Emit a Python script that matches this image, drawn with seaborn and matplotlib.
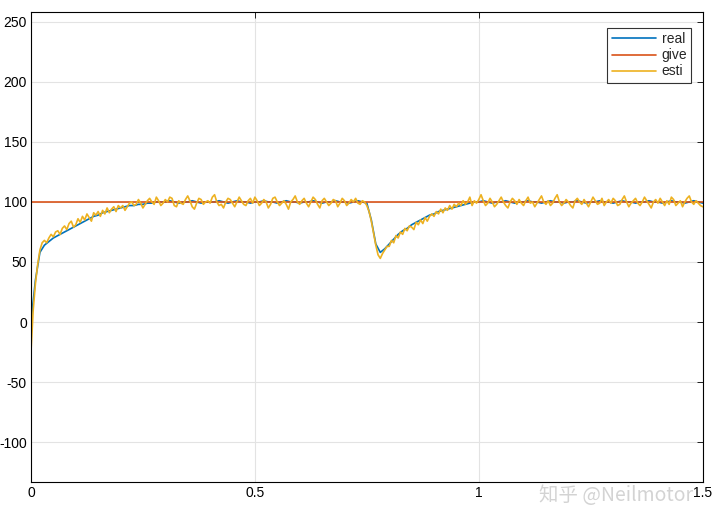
import matplotlib
matplotlib.use("Agg")
import matplotlib.pyplot as plt
import numpy as np
import seaborn as sns

# reference signal (step command)
give_t = [0.0, 1.5]
give_v = [100, 100]

# real speed, sampled every 0.01 s
real_v = [
    0, 35, 58, 64, 67, 70, 72, 74, 76, 78,
    80, 82, 84, 86, 88, 89, 91, 92, 93, 94,
    95, 96, 97, 97, 98, 98, 99, 99, 100, 100,
    100, 101, 100, 99, 100, 100, 101, 100, 99, 100,
    100, 100, 101, 100, 99, 100, 101, 100, 100, 99,
    100, 100, 101, 100, 100, 99, 100, 101, 100, 100,
    99, 100, 100, 101, 100, 99, 100, 100, 101, 100,
    100, 99, 100, 101, 100, 99, 85, 65, 58, 61,
    65, 69, 73, 76, 78, 81, 83, 85, 87, 89,
    90, 92, 93, 94, 95, 96, 97, 98, 99, 100,
    100, 101, 100, 99, 100, 100, 101, 100, 99, 100,
    100, 101, 100, 100, 99, 100, 101, 100, 100, 99,
    100, 100, 101, 100, 99, 100, 100, 101, 100, 100,
    99, 100, 101, 100, 100, 99, 100, 100, 101, 100,
    100, 99, 100, 101, 100, 100, 99, 100, 101, 100,
    99,
]
real_t = [i * 0.01 for i in range(len(real_v))]

# estimated speed (noisy), sampled every 0.005 s
esti_v = [
    -25, 10, 32, 48, 60, 66, 68, 66, 70, 73, 71, 75, 76, 73, 78, 80, 77, 82, 84, 79,
    81, 86, 83, 88, 85, 90, 87, 84, 91, 89, 92, 88, 93, 90, 95, 91, 94, 96, 92, 97,
    95, 97, 93, 96, 99, 100, 97, 98, 102, 99, 95, 98, 101, 103, 100, 98, 104, 101, 97, 99,
    102, 100, 104, 103, 97, 96, 101, 99, 98, 102, 105, 101, 96, 94, 99, 103, 102, 98, 100, 101,
    99, 104, 106, 100, 97, 98, 95, 100, 103, 102, 99, 96, 100, 104, 101, 98, 97, 101, 103, 99,
    104, 101, 97, 99, 102, 100, 95, 98, 103, 104, 100, 97, 99, 101, 98, 94, 100, 102, 105, 100,
    98, 101, 103, 99, 96, 100, 104, 102, 98, 95, 101, 103, 100, 97, 99, 102, 101, 96, 99, 103,
    101, 97, 99, 102, 100, 103, 99, 98, 101, 100, 97, 92, 84, 74, 64, 56, 53, 57, 60, 63,
    63, 68, 66, 72, 70, 75, 73, 78, 76, 80, 79, 77, 83, 81, 85, 82, 87, 84, 88, 90,
    88, 92, 90, 94, 91, 95, 93, 97, 94, 98, 96, 99, 97, 101, 98, 100, 104, 97, 101, 99,
    102, 106, 101, 97, 99, 103, 100, 96, 98, 101, 104, 100, 97, 95, 100, 103, 101, 98, 102, 99,
    97, 101, 104, 99, 100, 96, 99, 102, 105, 100, 98, 101, 97, 99, 103, 106, 100, 97, 99, 102,
    100, 97, 95, 101, 103, 100, 98, 102, 99, 96, 100, 104, 101, 98, 99, 103, 97, 100, 102, 99,
    103, 101, 97, 98, 102, 105, 100, 96, 99, 101, 103, 99, 97, 100, 104, 101, 98, 95, 100, 102,
    99, 103, 100, 97, 101, 98, 104, 102, 97, 99, 101, 96, 100, 103, 105, 100, 98, 101, 99, 97,
    96,
]
esti_t = [i * 0.005 for i in range(len(esti_v))]

x_ticks = [0, 0.5, 1, 1.5]
x_labels = ["0", "0.5", "1", "1.5"]
y_ticks = [-100, -50, 0, 50, 100, 150, 200, 250]

sns.set_style("white")
plt.rcParams['font.family'] = ['Liberation Sans', 'DejaVu Sans']
plt.rcParams['axes.unicode_minus'] = False

fig = plt.figure(figsize=(7.2, 5.3), dpi=100)
ax = fig.add_axes([0.043, 0.091, 0.933, 0.886])

sns.lineplot(x=real_t, y=real_v, ax=ax, color="#0072BD", lw=1.2, label="real")
sns.lineplot(x=give_t, y=give_v, ax=ax, color="#D95319", lw=1.2, label="give")
sns.lineplot(x=esti_t, y=esti_v, ax=ax, color="#EDB120", lw=1.2, label="esti")

ax.set_xlim(0, 1.5)
ax.set_ylim(-133, 258)
ax.set_xticks(x_ticks)
ax.set_xticklabels(x_labels)
ax.set_yticks(y_ticks)
ax.grid(True, color="#e3e3e3", lw=0.8)
ax.set_axisbelow(True)
for s in ax.spines.values():
    s.set_color("black")
    s.set_linewidth(0.8)
ax.tick_params(direction="in", length=4, width=0.6, labelsize=10, pad=3,
               top=True, right=True, colors="black")

leg = ax.legend(loc="upper right", bbox_to_anchor=(0.983, 0.966), fontsize=10,
                frameon=True, fancybox=False, handlelength=3.2,
                borderpad=0.3, labelspacing=0.15, handletextpad=0.4,
                borderaxespad=0)
leg.get_frame().set_edgecolor("black")
leg.get_frame().set_linewidth(0.8)

fig.text(0.855, 0.066, "知乎 @Neilmotor", ha="center", va="center", fontsize=14,
         color="#cfcfcf", alpha=0.9, family=["Noto Sans CJK SC", "DejaVu Sans"])

fig.savefig("out.png", dpi=100, facecolor="white")
